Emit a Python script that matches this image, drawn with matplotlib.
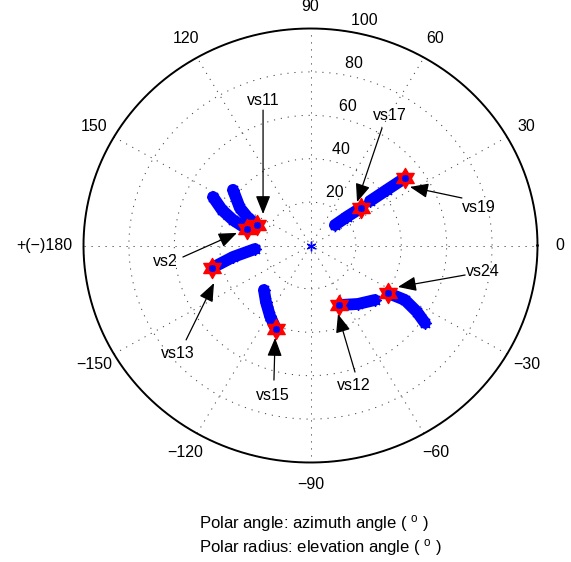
import numpy as np
import matplotlib
matplotlib.use('Agg')
import matplotlib.pyplot as plt
from matplotlib.path import Path

plt.rcParams['font.family'] = ['Liberation Sans', 'DejaVu Sans']
plt.rcParams['mathtext.fontset'] = 'custom'
plt.rcParams['mathtext.rm'] = 'Liberation Sans'
plt.rcParams['mathtext.it'] = 'Liberation Sans:italic'

# ---------------- data (azimuth deg, polar radius); last point = current position ----------------
vs2_az = [152.5, 157.2, 161.0, 164.8]
vs2_r = [48.4, 42.3, 36.1, 29.0]
vs11_az = [143.1, 150.9, 155.2, 158.2]
vs11_r = [42.7, 35.6, 30.3, 25.4]
vs13_az = [183.8, 188.8, 193.4]
vs13_r = [24.5, 34.5, 44.6]
vs17_az = [41.2, 39.5, 37.9]
vs17_r = [14.3, 21.0, 28.2]
vs19_az = [38.0, 37.3, 36.8]
vs19_r = [33.3, 42.5, 51.9]
vs15_az = [225.0, 233.0, 241.3, 248.5]
vs15_r = [29.0, 32.6, 37.1, 41.4]
vs12_az = [318.5, 307.8, 294.6]
vs12_r = [37.9, 34.1, 30.2]
vs24_az = [324.7, 326.9, 328.9, 327.3]
vs24_r = [61.8, 56.0, 48.6, 40.5]

sat_names = ['vs2', 'vs11', 'vs13', 'vs17', 'vs19', 'vs15', 'vs12', 'vs24']
sat_az = [vs2_az, vs11_az, vs13_az, vs17_az, vs19_az, vs15_az, vs12_az, vs24_az]
sat_r = [vs2_r, vs11_r, vs13_r, vs17_r, vs19_r, vs15_r, vs12_r, vs24_r]

# annotation label positions / arrow tails / arrow tips (cartesian, polar-radius units)
label_xy = {'vs11': (-20.9, 67.0), 'vs17': (35.0, 59.7), 'vs19': (74.2, 17.7),
            'vs2': (-64.1, -7.6), 'vs13': (-58.4, -50.0), 'vs15': (-16.5, -68.9),
            'vs12': (19.2, -64.3), 'vs24': (76.0, -12.2)}
tail_xy = {'vs11': (-20.9, 62.4), 'vs17': (31.5, 54.1), 'vs19': (66.7, 21.9),
           'vs2': (-56.2, -5.3), 'vs13': (-54.8, -43.5), 'vs15': (-16.1, -62.0),
           'vs12': (19.6, -58.3), 'vs24': (68.1, -13.6)}
tip_xy = {'vs11': (-20.9, 14.5), 'vs17': (20.5, 20.0), 'vs19': (43.8, 27.0),
          'vs2': (-32.4, 5.8), 'vs13': (-42.5, -17.3), 'vs15': (-15.6, -42.6),
          'vs12': (12.1, -31.6), 'vs24': (38.5, -19.1)}

r_ticks = [20, 40, 60, 80, 100]
ang_ticks = [0, 30, 60, 90, 120, 150, 180, 210, 240, 270, 300, 330]
ang_labels = ['0', '30', '60', '90', '120', '150', '+(\u2212)180',
              '\u2212150', '\u2212120', '\u221290', '\u221260', '\u221230']
rmax = 100

# ---------------- figure ----------------
W, H = 571, 562
fig = plt.figure(figsize=(W / 100, H / 100), dpi=100)
cx, cy, rx, ry = 310.5, 245.5, 227, 217
ax = fig.add_axes([(cx - rx) / W, (H - cy - ry) / H, 2 * rx / W, 2 * ry / H])
ax.set_xlim(-rmax, rmax)
ax.set_ylim(-rmax, rmax)
ax.axis('off')

t = np.linspace(0, 2 * np.pi, 400)
dot = (0, (1.2, 6))
for rr in r_ticks:
    ax.plot(rr * np.cos(t), rr * np.sin(t), color='0.25', lw=0.7, ls=dot, zorder=1)
for a in range(0, 180, 30):
    th = np.deg2rad(a)
    ax.plot([-rmax * np.cos(th), rmax * np.cos(th)], [-rmax * np.sin(th), rmax * np.sin(th)],
            color='0.25', lw=0.7, ls=dot, zorder=1)
ax.plot(rmax * np.cos(t), rmax * np.sin(t), color='k', lw=1.4, zorder=2, clip_on=False)

fs = 11.5
for a, lab in zip(ang_ticks, ang_labels):
    th = np.deg2rad(a)
    if a == 180:
        ax.text(-1.05 * rmax, 0, lab, ha='right', va='center', fontsize=fs, clip_on=False)
        continue
    ax.text(1.1 * rmax * np.cos(th), 1.1 * rmax * np.sin(th), lab, ha='center', va='center',
            fontsize=fs, clip_on=False)
c82 = np.deg2rad(82)
for rr in r_ticks:
    ax.text((rr + 1) * np.cos(c82), (rr + 1) * np.sin(c82), '  ' + str(rr), ha='left',
            va='bottom', fontsize=fs, clip_on=False)

# center marker
ax.plot([0], [0], ls='none', marker=(6, 2, 0), color='b', ms=7, mew=1.0, zorder=3)

hexagram = Path.unit_regular_star(6, innerCircle=0.57735)
asterisk = (8, 2, 0)
for name, az, rr in zip(sat_names, sat_az, sat_r):
    th = np.deg2rad(np.array(az))
    x = np.array(rr) * np.cos(th)
    y = np.array(rr) * np.sin(th)
    ax.plot(x, y, color='b', lw=8.5, solid_capstyle='round', solid_joinstyle='round', zorder=3)
    ax.plot(x, y, ls='none', marker=asterisk, color='b', ms=9, mew=1.0, zorder=3)
    ax.plot(x[-1:], y[-1:], ls='none', marker=hexagram, ms=14.5, mfc='r', mec='r', zorder=4)
    ax.plot(x[-1:], y[-1:], ls='none', marker=asterisk, color='b', ms=5, mew=1.2, zorder=5)

for name in sat_names:
    ax.annotate('', xy=tip_xy[name], xytext=tail_xy[name],
                arrowprops=dict(arrowstyle='-|>,head_length=0.8,head_width=0.32',
                                color='k', lw=0.9, shrinkA=0, shrinkB=0, mutation_scale=14),
                zorder=6, annotation_clip=False)
    ax.text(*label_xy[name], name, ha='center', va='center', fontsize=fs, zorder=6)

fig.text(199 / W, 1 - 523 / H, r'Polar angle: azimuth angle ( $^{\mathrm{o}}$ )', ha='left',
         va='center', fontsize=12)
fig.text(199 / W, 1 - 547 / H, r'Polar radius: elevation angle ( $^{\mathrm{o}}$ )', ha='left',
         va='center', fontsize=12)

fig.savefig('out.png', dpi=100)
